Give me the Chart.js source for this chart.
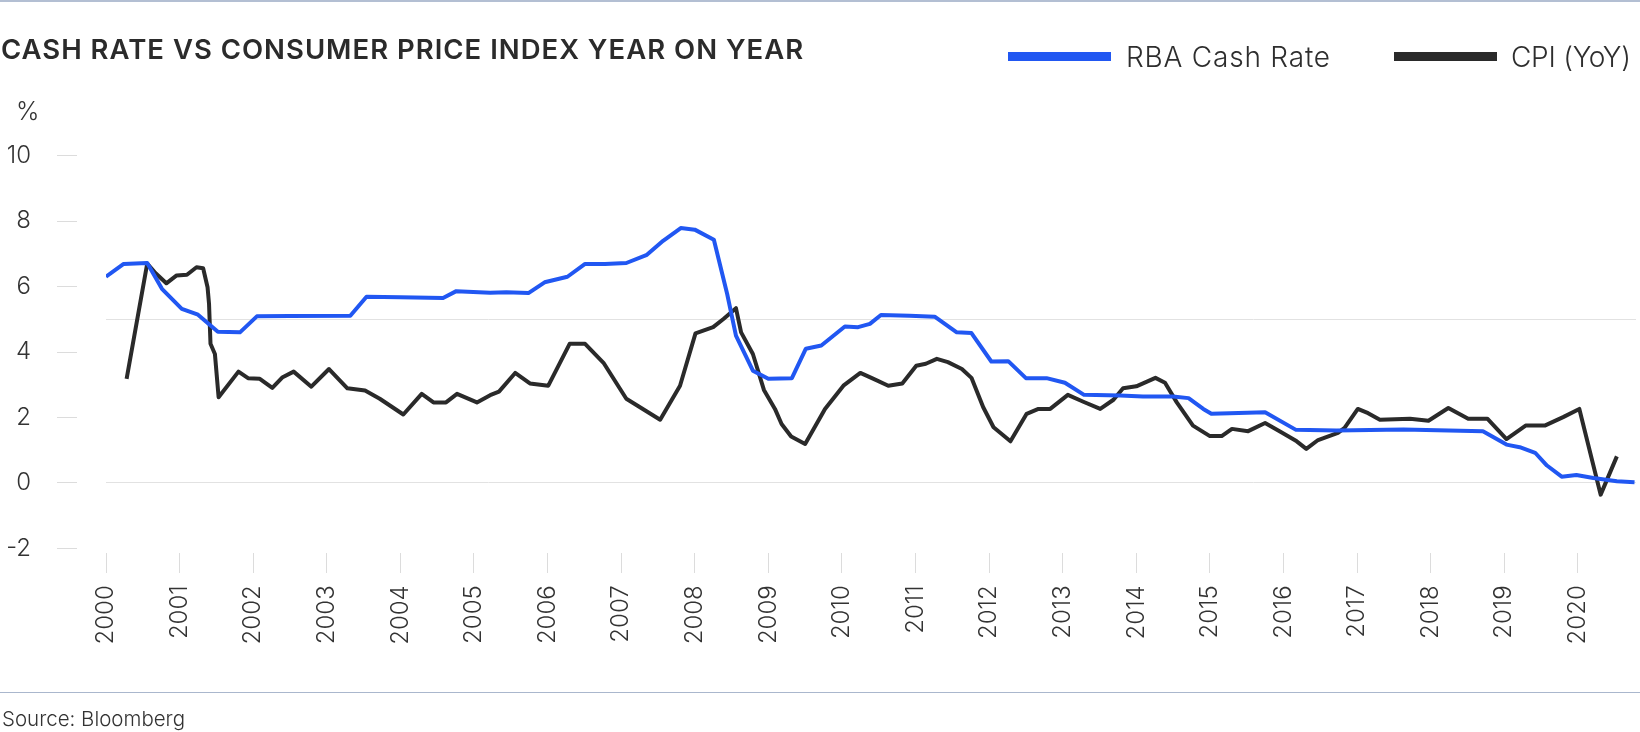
<!DOCTYPE html>
<html>
<head>
<meta charset="utf-8">
<script src="https://cdn.jsdelivr.net/npm/chart.js@4.4.1/dist/chart.umd.min.js"></script>
<style>
  html, body { margin: 0; padding: 0; background: #ffffff; }
  body { width: 1640px; height: 732px; position: relative; overflow: hidden; font-family: Inter, "Open Sans", sans-serif; color: #2e2e2e; }
  #wrap { position: absolute; left: 0; top: 0; width: 1640px; height: 732px; }
  .txt { position: absolute; white-space: nowrap; line-height: 1; }
  #title { left: 1px; top: 35.5px; font-size: 27.5px; font-weight: 600; color: #2b2b2b; }
  #pct { left: 16px; top: 98.5px; font-size: 25px; font-weight: 300; color: #333; }
  #source { left: 2px; top: 709px; font-size: 20.5px; font-weight: 300; color: #333; }
  .lgbox { position: absolute; height: 9px; top: 52px; }
  .lgtxt { top: 42.5px; font-size: 28px; font-weight: 300; color: #2e2e2e; }
  #topline { position: absolute; left: 0; top: 0; width: 1640px; height: 2px; background: #b3bfd3; }
  #botline { position: absolute; left: 0; top: 692px; width: 1640px; height: 1px; background: #aab7cd; }
</style>
</head>
<body>
<div id="topline"></div>
<div id="wrap"><canvas id="c"></canvas></div>
<div id="title" class="txt">CASH RATE VS CONSUMER PRICE INDEX YEAR ON YEAR</div>
<div id="pct" class="txt">%</div>
<div id="lgBlueBox" class="lgbox" style="left:1008px; width:103px; background:#2157f2;"></div>
<div id="lgBlueTxt" class="txt lgtxt" style="left:1126px;">RBA Cash Rate</div>
<div id="lgBlackBox" class="lgbox" style="left:1394px; width:103px; background:#2a2a2a;"></div>
<div id="lgBlackTxt" class="txt lgtxt" style="left:1511px;">CPI (YoY)</div>
<div id="botline"></div>
<div id="source" class="txt">Source: Bloomberg</div>
<script>
// ---- Data ----
const cashDates = [2000.00, 2000.24, 2000.56, 2000.76, 2001.03, 2001.25, 2001.52, 2001.82, 2002.05, 2002.50,
  2003.32, 2003.54, 2004.00, 2004.58, 2004.76, 2005.22, 2005.44, 2005.74, 2005.96, 2006.27,
  2006.51, 2006.78, 2007.07, 2007.35, 2007.57, 2007.81, 2008.00, 2008.26, 2008.44, 2008.56,
  2008.79, 2009.00, 2009.32, 2009.51, 2009.72, 2010.04, 2010.22, 2010.38, 2010.53, 2010.92,
  2011.26, 2011.56, 2011.76, 2012.03, 2012.26, 2012.50, 2012.78, 2013.03, 2013.29, 2013.78,
  2014.09, 2014.50, 2014.71, 2014.91, 2015.02, 2015.27, 2015.75, 2016.17, 2016.72, 2017.63,
  2018.71, 2019.03, 2019.21, 2019.42, 2019.58, 2019.78, 2019.98, 2020.21, 2020.53, 2020.77];
const cashValues = [6.30, 6.69, 6.72, 5.93, 5.32, 5.14, 4.62, 4.60, 5.09, 5.10,
  5.11, 5.69, 5.67, 5.65, 5.86, 5.81, 5.83, 5.80, 6.13, 6.30,
  6.69, 6.69, 6.72, 6.97, 7.40, 7.79, 7.74, 7.43, 5.78, 4.50,
  3.43, 3.18, 3.20, 4.10, 4.20, 4.78, 4.76, 4.86, 5.13, 5.11,
  5.08, 4.60, 4.58, 3.71, 3.72, 3.20, 3.20, 3.06, 2.69, 2.67,
  2.64, 2.64, 2.59, 2.26, 2.11, 2.13, 2.16, 1.62, 1.60, 1.63,
  1.58, 1.17, 1.09, 0.92, 0.53, 0.19, 0.24, 0.15, 0.05, 0.02];

const cpiDates = [2000.28, 2000.56, 2000.66, 2000.82, 2000.96, 2001.10, 2001.23, 2001.32, 2001.38, 2001.40,
  2001.42, 2001.48, 2001.53, 2001.80, 2001.93, 2002.09, 2002.26, 2002.40, 2002.55, 2002.79,
  2003.03, 2003.28, 2003.52, 2003.72, 2004.04, 2004.29, 2004.45, 2004.62, 2004.77, 2005.04,
  2005.22, 2005.34, 2005.56, 2005.76, 2006.01, 2006.30, 2006.51, 2006.76, 2007.07, 2007.53,
  2007.80, 2008.01, 2008.25, 2008.39, 2008.56, 2008.63, 2008.79, 2008.94, 2009.09, 2009.18,
  2009.31, 2009.50, 2009.77, 2010.02, 2010.25, 2010.43, 2010.63, 2010.82, 2011.01, 2011.14,
  2011.29, 2011.44, 2011.63, 2011.76, 2011.92, 2012.06, 2012.29, 2012.51, 2012.67, 2012.83,
  2013.07, 2013.28, 2013.51, 2013.69, 2013.82, 2014.00, 2014.26, 2014.39, 2014.55, 2014.77,
  2015.00, 2015.16, 2015.30, 2015.52, 2015.75, 2015.97, 2016.18, 2016.31, 2016.47, 2016.74,
  2016.83, 2017.01, 2017.15, 2017.31, 2017.72, 2017.97, 2018.24, 2018.51, 2018.77, 2019.03,
  2019.29, 2019.55, 2019.80, 2020.02, 2020.31, 2020.53];
const cpiValues = [3.18, 6.70, 6.44, 6.10, 6.34, 6.36, 6.59, 6.56, 5.98, 5.47,
  4.25, 3.94, 2.62, 3.40, 3.20, 3.18, 2.90, 3.23, 3.40, 2.94,
  3.48, 2.89, 2.82, 2.57, 2.09, 2.72, 2.46, 2.46, 2.72, 2.46,
  2.68, 2.79, 3.36, 3.04, 2.97, 4.25, 4.25, 3.67, 2.57, 1.93,
  2.97, 4.57, 4.76, 5.01, 5.34, 4.60, 3.94, 2.84, 2.26, 1.80,
  1.42, 1.19, 2.26, 2.97, 3.36, 3.18, 2.97, 3.04, 3.58, 3.64,
  3.79, 3.69, 3.48, 3.21, 2.31, 1.70, 1.27, 2.11, 2.26, 2.26,
  2.69, 2.48, 2.26, 2.54, 2.89, 2.95, 3.21, 3.06, 2.46, 1.75,
  1.43, 1.43, 1.65, 1.58, 1.83, 1.55, 1.27, 1.04, 1.31, 1.53,
  1.68, 2.26, 2.13, 1.93, 1.96, 1.90, 2.29, 1.96, 1.96, 1.34,
  1.75, 1.75, 2.01, 2.26, -0.36, 0.81];

const seriesNames = ['RBA Cash Rate', 'CPI (YoY)'];
const yTickMin = -2, yTickMax = 10, yTickStep = 2;
const gridValues = [0, 5];
const xFirstYear = 2000, xLastYear = 2020.79;

// ---- Styling ----
const BLUE = '#2157f2';
const BLACK = '#2a2a2a';
const TICK_FONT = { family: 'Inter', size: 24, weight: 300 };

// fit text widths to the reference (letter spacing only)
function fitWidth(id, font, target) {
  const el = document.getElementById(id);
  const c = document.createElement('canvas').getContext('2d');
  c.font = font;
  const w = c.measureText(el.textContent).width;
  const n = el.textContent.length;
  el.style.letterSpacing = ((target - w) / (n - 1)).toFixed(2) + 'px';
}
fitWidth('title', '600 27.5px Inter', 802);
fitWidth('lgBlueTxt', '300 28px Inter', 204);
fitWidth('lgBlackTxt', '300 28px Inter', 120);

const toPoints = (xs, ys) => xs.map((x, i) => ({ x: x, y: ys[i] }));

new Chart(document.getElementById('c'), {
  type: 'line',
  data: {
    datasets: [
      { label: seriesNames[0], data: toPoints(cashDates, cashValues), borderColor: BLUE, backgroundColor: BLUE,
        borderWidth: 4, pointRadius: 0, tension: 0, borderJoinStyle: 'round', fill: false },
      { label: seriesNames[1], data: toPoints(cpiDates, cpiValues), borderColor: BLACK, backgroundColor: BLACK,
        borderWidth: 4, pointRadius: 0, tension: 0, borderJoinStyle: 'round', fill: false }
    ]
  },
  options: {
    responsive: true,
    maintainAspectRatio: false,
    animation: false,
    events: [],
    layout: { padding: { top: 155.7, left: 0, right: 4, bottom: 83.7 } },
    plugins: { legend: { display: false }, tooltip: { enabled: false }, title: { display: false } },
    scales: {
      x: {
        type: 'linear', min: xFirstYear, max: xLastYear,
        afterFit: s => { s.height = 100; },
        border: { display: false },
        grid: { drawOnChartArea: false, drawTicks: true, tickLength: 25, tickBorderDash: [20, 50], tickBorderDashOffset: 65, tickColor: '#dcdcdc', tickWidth: 1 },
        ticks: { stepSize: 1, includeBounds: false, autoSkip: false, minRotation: 90, maxRotation: 90, padding: 12,
          color: '#333', font: TICK_FONT,
          callback: v => (Math.abs(v - Math.round(v)) < 1e-6 ? String(Math.round(v)) : '') }
      },
      y: {
        position: 'left', min: yTickMin, max: yTickMax,
        afterFit: s => { s.width = 106; },
        border: { display: false },
        grid: { drawOnChartArea: false, drawTicks: true, tickLength: 49, tickBorderDash: [20, 100], tickColor: '#dcdcdc', tickWidth: 1 },
        ticks: { stepSize: yTickStep, padding: 26, color: '#333', font: TICK_FONT }
      },
      yg: {
        position: 'right', min: yTickMin, max: yTickMax,
        afterFit: s => { s.width = 0; },
        afterBuildTicks: s => { s.ticks = gridValues.map(v => ({ value: v })); },
        border: { display: false },
        grid: { drawOnChartArea: true, drawTicks: false, color: '#e2e2e2', lineWidth: 1 },
        ticks: { display: false }
      }
    }
  }
});
</script>
</body>
</html>
